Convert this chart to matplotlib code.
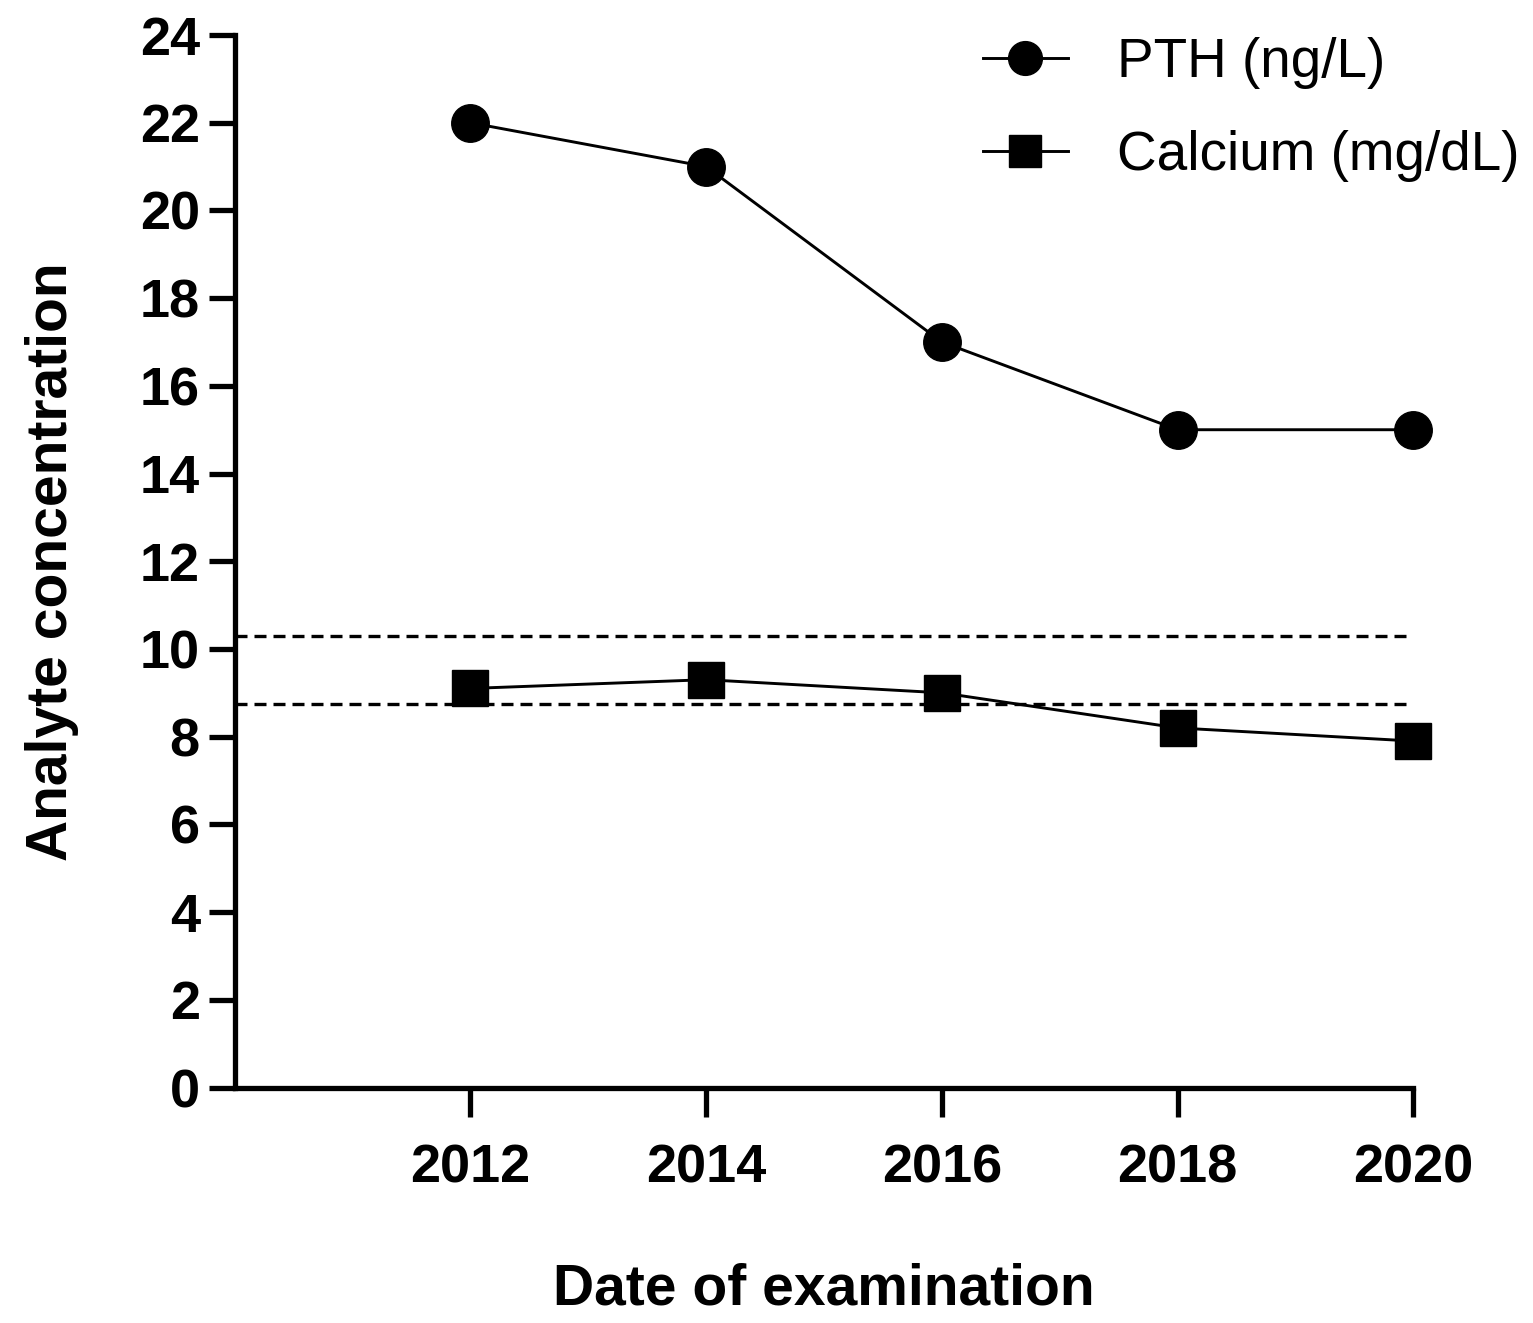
#!/usr/bin/env python3
"""PTH and calcium over time, with calcium reference range."""

import matplotlib
matplotlib.use("Agg")
import matplotlib.pyplot as plt

years = [2012, 2014, 2016, 2018, 2020]
pth = [22, 21, 17, 15, 15]
calcium = [9.1, 9.3, 9.0, 8.2, 7.9]
ca_range = [8.75, 10.3]  # dotted reference lines

plt.rcParams["font.family"] = ["Liberation Sans", "DejaVu Sans"]

fig = plt.figure(figsize=(15.33, 13.23), dpi=100)
ax = fig.add_axes([0.153, 0.178, 0.769, 0.7955])

for v in ca_range:
    ax.axhline(v, color="black", lw=2.4, linestyle=(0, (3.6, 2.1)), zorder=1)

ax.plot(years, pth, color="black", lw=2.1, marker="o", ms=27,
        label="PTH (ng/L)", clip_on=False, zorder=3)
ax.plot(years, calcium, color="black", lw=2.1, marker="s", ms=26,
        label="Calcium (mg/dL)", clip_on=False, zorder=3)

ax.set_xlim(2010, 2020)
ax.set_ylim(0, 24)
ax.set_xticks(years)
ax.set_yticks(range(0, 25, 2))

for s in ("top", "right"):
    ax.spines[s].set_visible(False)
for s in ("left", "bottom"):
    ax.spines[s].set_linewidth(3.8)

ax.tick_params(axis="y", length=19, width=3.8, pad=6, labelsize=39)
ax.tick_params(axis="x", length=21, width=3.8, pad=19, labelsize=39)
for lab in ax.get_xticklabels() + ax.get_yticklabels():
    lab.set_fontweight("bold")

ax.set_xlabel("Date of examination", fontsize=41, fontweight="bold", labelpad=50)
ax.set_ylabel("Analyte concentration", fontsize=41, fontweight="bold", labelpad=44)

fig.legend(loc="upper left", bbox_to_anchor=(0.641, 0.972), frameon=False,
           fontsize=39.5, handlelength=1.55, handletextpad=0.9,
           borderpad=0, borderaxespad=0, labelspacing=0.75, markerscale=0.9)

fig.savefig("out.png", dpi=100)
